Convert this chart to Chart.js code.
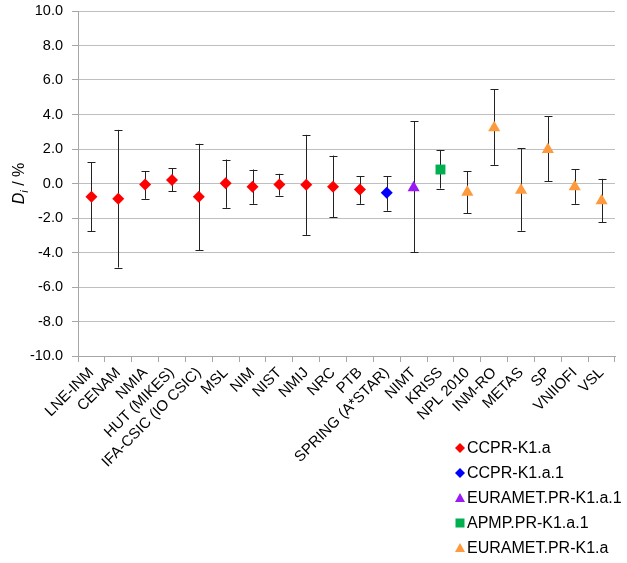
<!DOCTYPE html>
<html>
<head>
<meta charset="utf-8">
<script src="https://cdn.jsdelivr.net/npm/chart.js@4.4.0/dist/chart.umd.min.js"></script>
<style>
  body { margin: 0; background: #fff; }
  #grafico { display: block; }
</style>
</head>
<body>
<canvas id="grafico" width="627" height="563"></canvas>
<script>
// laboratorios (categorias del eje x)
const labs = ['LNE-INM', 'CENAM', 'NMIA', 'HUT (MIKES)', 'IFA-CSIC (IO CSIC)', 'MSL', 'NIM', 'NIST', 'NMIJ', 'NRC',
  'PTB', 'SPRING (A*STAR)', 'NIMT', 'KRISS', 'NPL 2010', 'INM-RO', 'METAS', 'SP', 'VNIIOFI', 'VSL'];
// Di en %, con limites superior e inferior de la barra de error
const di = [-0.77, -0.89, -0.06, 0.20, -0.77, 0.02, -0.19, -0.06, -0.07, -0.19,
  -0.35, -0.54, -0.25, 0.81, -0.50, 3.23, -0.39, 1.97, -0.19, -1.00];
const hi = [1.23, 3.11, 0.70, 0.89, 2.30, 1.39, 0.81, 0.56, 2.82, 1.62,
  0.42, 0.41, 3.61, 1.93, 0.70, 5.45, 2.05, 3.90, 0.83, 0.27];
const lo = [-2.78, -4.87, -0.89, -0.46, -3.88, -1.41, -1.18, -0.70, -2.98, -1.97,
  -1.18, -1.58, -3.98, -0.29, -1.72, 1.08, -2.74, 0.12, -1.18, -2.26];
// a que comparacion pertenece cada laboratorio
const grp = [0, 0, 0, 0, 0, 0, 0, 0, 0, 0, 0, 1, 2, 3, 4, 4, 4, 4, 4, 4];
const series = ['CCPR-K1.a', 'CCPR-K1.a.1', 'EURAMET.PR-K1.a.1', 'APMP.PR-K1.a.1', 'EURAMET.PR-K1.a'];
const yTicks = [-10, -8, -6, -4, -2, 0, 2, 4, 6, 8, 10];

const colores = ['#FF0000', '#0000FF', '#9A1AF5', '#00B050', '#FF9A3C'];
const formas = ['rectRot', 'rectRot', 'triangle', 'rect', 'triangle'];
const radios = [6, 6, 7, 7, 7];

const datasets = series.map(function (nombre, s) {
  return {
    label: nombre,
    data: di.map(function (v, i) { return grp[i] === s ? v : null; }),
    showLine: false,
    pointStyle: formas[s],
    pointRadius: radios[s],
    pointHoverRadius: radios[s],
    pointBackgroundColor: colores[s],
    pointBorderColor: colores[s],
    pointBorderWidth: 0,
    backgroundColor: colores[s],
    borderColor: colores[s]
  };
});

// barras de error dibujadas con las escalas del grafico
const barrasError = {
  id: 'barrasError',
  beforeDatasetsDraw(chart) {
    const ctx = chart.ctx;
    const x = chart.scales.x, y = chart.scales.y;
    ctx.save();
    ctx.strokeStyle = '#222';
    ctx.lineWidth = 1;
    labs.forEach(function (lab, i) {
      const px = Math.round(x.getPixelForValue(i)) + 0.5;
      const top = y.getPixelForValue(hi[i]);
      const bot = y.getPixelForValue(lo[i]);
      ctx.beginPath();
      ctx.moveTo(px, top); ctx.lineTo(px, bot);
      ctx.moveTo(px - 4, Math.round(top) + 0.5); ctx.lineTo(px + 4, Math.round(top) + 0.5);
      ctx.moveTo(px - 4, Math.round(bot) + 0.5); ctx.lineTo(px + 4, Math.round(bot) + 0.5);
      ctx.stroke();
    });
    ctx.restore();
  }
};

// titulo del eje y con subindice, y leyenda vertical abajo a la derecha
const extras = {
  id: 'extras',
  afterDraw(chart) {
    const ctx = chart.ctx;
    const area = chart.chartArea;
    ctx.save();
    ctx.translate(24, (area.top + area.bottom) / 2);
    ctx.rotate(-Math.PI / 2);
    ctx.fillStyle = '#000';
    ctx.textBaseline = 'alphabetic';
    ctx.font = 'italic 16px "Liberation Sans", Arial, sans-serif';
    const wD = ctx.measureText('D').width;
    ctx.font = 'italic 11px "Liberation Sans", Arial, sans-serif';
    const wi = ctx.measureText('i').width;
    ctx.font = '16px "Liberation Sans", Arial, sans-serif';
    const wr = ctx.measureText(' / %').width;
    let x0 = -(wD + wi + wr) / 2;
    ctx.font = 'italic 16px "Liberation Sans", Arial, sans-serif';
    ctx.fillText('D', x0, 0);
    ctx.font = 'italic 11px "Liberation Sans", Arial, sans-serif';
    ctx.fillText('i', x0 + wD, 4);
    ctx.font = '16px "Liberation Sans", Arial, sans-serif';
    ctx.fillText(' / %', x0 + wD + wi, 0);
    ctx.restore();

    ctx.save();
    ctx.font = '16px "Liberation Sans", Arial, sans-serif';
    ctx.textBaseline = 'middle';
    series.forEach(function (nombre, s) {
      const ly = 448 + s * 25;
      const lx = 460;
      ctx.fillStyle = colores[s];
      ctx.beginPath();
      if (formas[s] === 'rectRot') {
        ctx.moveTo(lx, ly - 5); ctx.lineTo(lx + 5, ly); ctx.lineTo(lx, ly + 5); ctx.lineTo(lx - 5, ly);
      } else if (formas[s] === 'triangle') {
        ctx.moveTo(lx, ly - 5); ctx.lineTo(lx + 5, ly + 4); ctx.lineTo(lx - 5, ly + 4);
      } else {
        ctx.rect(lx - 4.5, ly - 4.5, 9, 9);
      }
      ctx.closePath();
      ctx.fill();
      ctx.fillStyle = '#000';
      ctx.fillText(nombre, lx + 7, ly + 1);
    });
    ctx.restore();
  }
};

new Chart(document.getElementById('grafico'), {
  type: 'line',
  data: { labels: labs, datasets: datasets },
  options: {
    responsive: false,
    animation: false,
    devicePixelRatio: 1,
    layout: { padding: { top: 11, right: 12, left: 0, bottom: 0 } },
    plugins: {
      legend: { display: false },
      tooltip: { enabled: false }
    },
    scales: {
      x: {
        type: 'category',
        offset: true,
        grid: { offset: true, drawOnChartArea: false, tickLength: 6, color: '#A6A6A6' },
        border: { color: '#A6A6A6' },
        ticks: {
          autoSkip: false, maxRotation: 45, minRotation: 45, padding: 2,
          color: '#000', font: { family: '"Liberation Sans", Arial, sans-serif', size: 15 }
        },
        afterFit(scale) { scale.height = 207; }
      },
      y: {
        min: -10, max: 10,
        afterBuildTicks(scale) { scale.ticks = yTicks.map(function (v) { return { value: v }; }); },
        grid: { color: '#BFBFBF', tickLength: 6, tickColor: '#A6A6A6' },
        border: { color: '#A6A6A6' },
        ticks: {
          padding: 9, color: '#000',
          font: { family: '"Liberation Sans", Arial, sans-serif', size: 14.5 },
          callback: function (v) { return v.toFixed(1); }
        },
        afterFit(scale) { scale.width = 78; scale.paddingTop = 0; scale.paddingBottom = 0; }
      }
    }
  },
  plugins: [barrasError, extras]
});
</script>
</body>
</html>
